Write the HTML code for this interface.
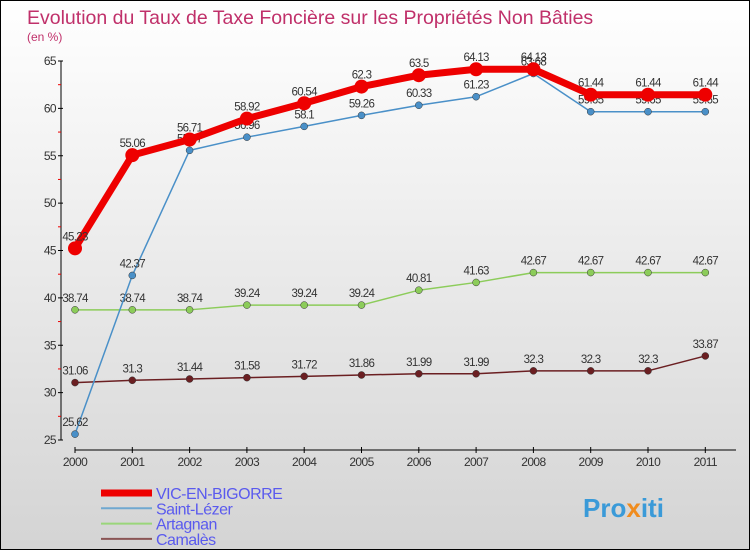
<!DOCTYPE html>
<html><head><meta charset="utf-8"><style>
body{margin:0;width:750px;height:550px;overflow:hidden;font-family:"Liberation Sans",sans-serif}
#wrap{position:relative;width:748px;height:548px;border:1px solid #000;background:linear-gradient(#fff,#d4d4d4)}
.t{font-size:11.5px;fill:#333;letter-spacing:-0.7px}
</style></head><body>
<div id="wrap">
<svg id="svg" width="748" height="548" xmlns="http://www.w3.org/2000/svg">
<text x="26" y="23" font-size="19.5" fill="#c0306a">Evolution du Taux de Taxe Foncière sur les Propriétés Non Bâties</text>
<text x="26" y="40" font-size="12" fill="#c0306a">(en %)</text>
<g id="axes"></g><g id="series"></g><g id="legend"></g>
<text x="582" y="516" font-size="26" font-weight="bold" fill="#3a9ad8">Pro<tspan fill="#f08c1e">x</tspan>iti</text>
</svg></div>
<script>
const years=["2000","2001","2002","2003","2004","2005","2006","2007","2008","2009","2010","2011"];
const yTicks=[25,30,35,40,45,50,55,60,65];
const vic=[45.23,55.06,56.71,58.92,60.54,62.3,63.5,64.13,64.13,61.44,61.44,61.44];
const saint=[25.62,42.37,55.57,56.96,58.1,59.26,60.33,61.23,63.68,59.65,59.65,59.65];
const artagnan=[38.74,38.74,38.74,39.24,39.24,39.24,40.81,41.63,42.67,42.67,42.67,42.67];
const camales=[31.06,31.3,31.44,31.58,31.72,31.86,31.99,31.99,32.3,32.3,32.3,33.87];
const NS="http://www.w3.org/2000/svg";
function X(i){return 74+i*57.3;}
function Y(v){return 439-(v-25)*9.475;}
function mk(t,a,p){const e=document.createElementNS(NS,t);for(const k in a)e.setAttribute(k,a[k]);(p||document.getElementById('series')).appendChild(e);return e;}
const ax=document.getElementById('axes');
let e=mk('line',{x1:60,y1:Y(65),x2:60,y2:Y(25),stroke:'#000'},ax);

e=mk('line',{x1:74,y1:449,x2:735,y2:449,stroke:'#000'},ax);

yTicks.forEach(v=>{mk('line',{x1:57,y1:Y(v),x2:62,y2:Y(v),stroke:'#000'},ax);
 if(v<65){mk('line',{x1:57,y1:Y(v+2.5),x2:60,y2:Y(v+2.5),stroke:'#e00'},ax);}
 const t=mk('text',{x:55,y:Y(v)+4,'text-anchor':'end','font-size':12,fill:'#333','letter-spacing':'-0.6'},ax);t.textContent=v;
 });
years.forEach((y,i)=>{mk('line',{x1:X(i),y1:446,x2:X(i),y2:452,stroke:'#000'},ax);
 const t=mk('text',{x:X(i),y:465,'text-anchor':'middle','font-size':12,fill:'#333','letter-spacing':'-0.6'},ax);t.textContent=y;
 });
function series(d,col,w,r,name){
 const l=mk('polyline',{points:d.map((v,i)=>X(i)+','+Y(v)).join(' '),fill:'none',stroke:col,'stroke-width':w,'stroke-linejoin':'round'});
 
 d.forEach((v,i)=>{const c=mk('circle',{cx:X(i),cy:Y(v),r:r,fill:col,stroke:w>3?'none':'#333','stroke-width':0.5});
  
  const t=mk('text',{x:X(i),y:Y(v)-8,'text-anchor':'middle',class:'t'});t.textContent=v;
  });
}
series(camales,'#6b1f22',1.5,3.5,'camales');
series(artagnan,'#8ccc5a',1.5,3.5,'artagnan');
series(saint,'#4a90c8',1.5,3.5,'saint-lezer');
series(vic,'#ee0000',7,7,'vic-en-bigorre');
const lg=document.getElementById('legend');
[['VIC-EN-BIGORRE','#ee0000',7],['Saint-Lézer','#6fa8d0',2],['Artagnan','#9ad67a',2],['Camalès','#8a5555',2]].forEach((s,i)=>{
 const y=492+i*15.3;
 const ln=mk('line',{x1:100,y1:y,x2:151,y2:y,stroke:s[1],'stroke-width':s[2]},lg);
 
 const t=mk('text',{x:155,y:y+6,'font-size':16,fill:'#5a5aee','letter-spacing':'-0.5'},lg);t.textContent=s[0];
 
});
</script></body></html>
